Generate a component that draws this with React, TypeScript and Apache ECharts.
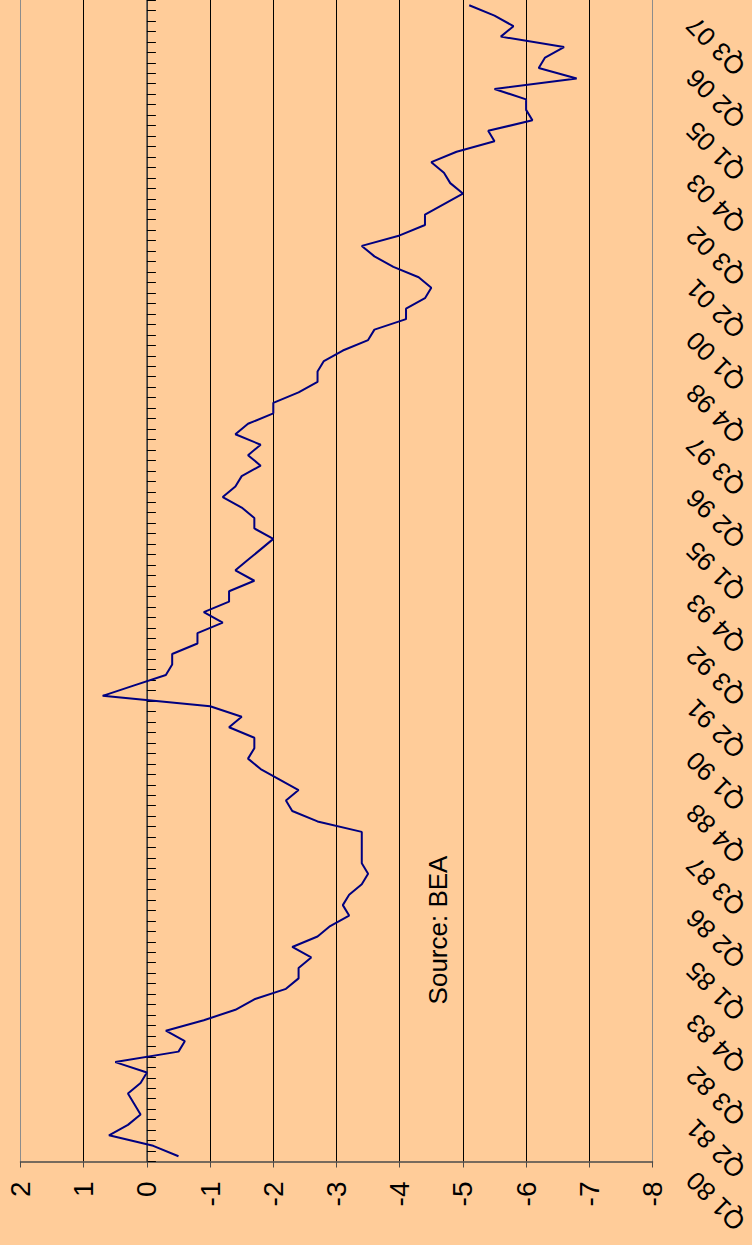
import React, { useEffect, useRef } from "react";
import * as echarts from "echarts";

// Quarter labels Q1 80 ... Q3 07
const startYear = 1980;
const quarterCount = 111;
const categories: string[] = [];
for (let k = 0; k < quarterCount; k++) {
  const y = startYear + Math.floor(k / 4);
  const q = (k % 4) + 1;
  categories.push(`Q${q} ${String(y % 100).padStart(2, "0")}`);
}

// Series values
const values: number[] = [
  -0.5, -0.1, 0.6, 0.3, 0.1, 0.2, 0.3, 0.1, 0.0, 0.5,
  -0.5, -0.6, -0.3, -0.9, -1.4, -1.7, -2.2, -2.4, -2.4, -2.6,
  -2.3, -2.7, -2.9, -3.2, -3.1, -3.2, -3.4, -3.5, -3.4, -3.4,
  -3.4, -3.4, -2.7, -2.3, -2.2, -2.4, -2.1, -1.8, -1.6, -1.7,
  -1.7, -1.3, -1.5, -1.0, 0.7, 0.2, -0.3, -0.4, -0.4, -0.8,
  -0.8, -1.2, -0.9, -1.3, -1.3, -1.7, -1.4, -1.6, -1.8, -2.0,
  -1.7, -1.7, -1.5, -1.2, -1.4, -1.5, -1.8, -1.6, -1.8, -1.4,
  -1.6, -2.0, -2.0, -2.4, -2.7, -2.7, -2.8, -3.1, -3.5, -3.6,
  -4.1, -4.1, -4.4, -4.5, -4.3, -3.9, -3.6, -3.4, -4.0, -4.4,
  -4.4, -4.7, -5.0, -4.8, -4.7, -4.5, -4.9, -5.5, -5.4, -6.1,
  -6.0, -6.0, -5.5, -6.8, -6.2, -6.3, -6.6, -5.6, -5.8, -5.5, -5.1,
];

const valueMin = -8;
const valueMax = 2;
const valueStep = 1;
const sourceText = "Source: BEA";

const FONT = "'Liberation Sans', Arial, Helvetica, sans-serif";

export default function App() {
  const ref = useRef<HTMLDivElement>(null);

  useEffect(() => {
    if (!ref.current) return;
    const chart = echarts.init(ref.current, undefined, { renderer: "svg" });

    const splitColors: string[] = [];
    for (let v = valueMin; v <= valueMax; v += valueStep) {
      splitColors.push(v === valueMin || v === valueMax ? "#8c8c8c" : "#000000");
    }

    const gridTop = -4;
    const gridBottom = 83.5;
    const labelShift = 20;

    chart.setOption({
      animation: false,
      backgroundColor: "#FFCC99",
      textStyle: { fontFamily: FONT },
      grid: [
        { left: 20.5, right: 99.5, top: gridTop, bottom: gridBottom, containLabel: false },
        { left: 20.5, right: 99.5, top: gridTop + labelShift, bottom: gridBottom - labelShift, containLabel: false },
      ],
      xAxis: [
        {
          type: "value",
          gridIndex: 0,
          inverse: true,
          min: valueMin,
          max: valueMax,
          interval: valueStep,
          position: "bottom",
          axisLine: { show: true, onZero: false, lineStyle: { color: "#4a4a4a", width: 1.5 } },
          axisTick: { show: true, length: 6, lineStyle: { color: "#4a4a4a", width: 1 } },
          axisLabel: {
            show: true,
            rotate: 90,
            margin: 20,
            fontSize: 28,
            color: "#000",
            fontFamily: FONT,
          },
          splitLine: { show: true, lineStyle: { color: splitColors, width: 1 } },
        },
        {
          type: "value",
          gridIndex: 1,
          inverse: true,
          min: valueMin,
          max: valueMax,
          interval: valueStep,
          show: false,
        },
      ],
      yAxis: [
        {
          type: "category",
          gridIndex: 0,
          data: categories,
          position: "right",
          boundaryGap: true,
          axisLine: { show: true, onZero: true, lineStyle: { color: "#4a4a4a", width: 1.5 } },
          axisTick: { show: true, interval: 0, length: 9, inside: false, lineStyle: { color: "#000", width: 1 } },
          axisLabel: { show: false },
          splitLine: { show: false },
        },
        {
          type: "category",
          gridIndex: 1,
          data: categories,
          position: "right",
          boundaryGap: true,
          axisLine: { show: false },
          axisTick: { show: false },
          axisLabel: {
            show: true,
            interval: 4,
            rotate: 135,
            margin: 41,
            fontSize: 26,
            color: "#000",
            fontFamily: FONT,
          },
          splitLine: { show: false },
        },
      ],
      series: [
        {
          type: "line",
          xAxisIndex: 0,
          yAxisIndex: 0,
          data: values.map((v, i) => [v, i]),
          symbol: "none",
          lineStyle: { color: "#000080", width: 2 },
          clip: true,
        },
      ],
      graphic: [
        {
          type: "text",
          x: 438,
          y: 930,
          rotation: Math.PI / 2,
          style: {
            text: sourceText,
            fontSize: 26,
            fontFamily: FONT,
            fill: "#000",
            textAlign: "center",
            textVerticalAlign: "middle",
          },
        },
      ],
    });

    return () => chart.dispose();
  }, []);

  return (
    <div
      ref={ref}
      style={{ position: "absolute", left: 0, top: 0, width: 752, height: 1245 }}
    />
  );
}
